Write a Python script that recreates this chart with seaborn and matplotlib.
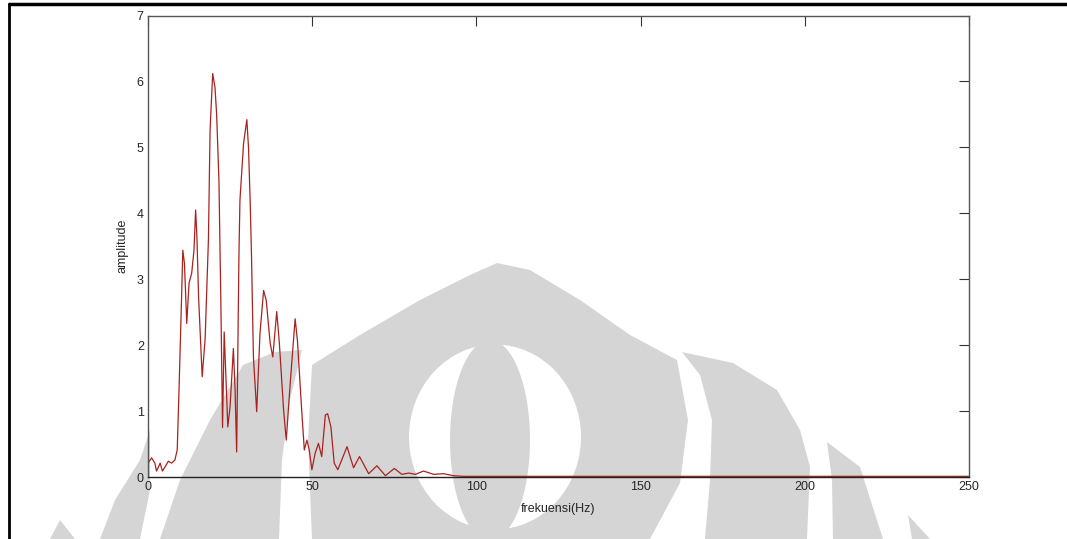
import numpy as np
import pandas as pd
import seaborn as sns
import matplotlib.pyplot as plt
from matplotlib.patches import Polygon, Ellipse

# spectrum
freq = [0.0, 1.1, 2.1, 2.6, 3.7, 4.4, 5.4, 6.2, 7.2, 8.2, 8.9, 9.5, 10.2, 10.6,
        11.1, 11.8, 12.5, 13.3, 14.0, 14.5, 14.9, 15.4, 16.5, 17.4, 18.4, 18.9,
        19.7, 20.4, 20.9, 21.6, 22.2, 22.7, 23.2, 23.8, 24.3, 25.0, 26.0, 26.5,
        27.0, 27.7, 28.0, 29.1, 30.1, 30.6, 31.1, 31.5, 32.1, 33.1, 34.1, 35.2,
        36.0, 37.2, 38.0, 39.2, 40.0, 41.3, 42.1, 43.3, 44.8, 45.5, 46.8, 47.6,
        48.4, 49.1, 49.9, 50.9, 51.9, 52.9, 54.0, 54.7, 55.7, 56.7, 57.8, 60.6,
        62.6, 64.4, 67.2, 69.7, 72.3, 75.0, 77.3, 79.4, 81.4, 83.9, 87.0, 90.0,
        93.0, 96.0, 250.0]
amp = [0.21, 0.29, 0.21, 0.09, 0.21, 0.09, 0.17, 0.24, 0.21, 0.26, 0.41, 1.42,
       2.68, 3.44, 3.24, 2.33, 2.94, 3.09, 3.44, 4.05, 3.64, 2.73, 1.52, 2.10,
       3.60, 5.26, 6.12, 5.91, 5.50, 4.50, 2.60, 0.75, 2.20, 1.42, 0.76, 1.07,
       1.95, 1.34, 0.38, 3.40, 4.20, 5.06, 5.42, 5.00, 4.20, 3.40, 1.82, 0.99,
       2.18, 2.83, 2.68, 2.03, 1.82, 2.51, 2.03, 1.01, 0.56, 1.42, 2.40, 2.07,
       1.01, 0.41, 0.56, 0.41, 0.11, 0.36, 0.51, 0.31, 0.94, 0.96, 0.76, 0.21,
       0.11, 0.46, 0.14, 0.31, 0.05, 0.17, 0.02, 0.13, 0.04, 0.06, 0.04, 0.09,
       0.04, 0.05, 0.02, 0.01, 0.01]

xticks = [0, 50, 100, 150, 200, 250]
yticks = [0, 1, 2, 3, 4, 5, 6, 7]

df = pd.DataFrame({"freq": freq, "amp": amp})

sns.set_style("white")
plt.rcParams['font.family'] = ['Liberation Sans', 'DejaVu Sans']

W, H = 1067, 539
fig = plt.figure(figsize=(W / 100, H / 100), dpi=100)
fig.patch.set_facecolor("white")

# background layer: watermark logo + frame (pixel coords)
bg = fig.add_axes([0, 0, 1, 1], zorder=0)
bg.set_xlim(0, W)
bg.set_ylim(H, 0)
bg.axis("off")
wm = "#d5d5d5"
shapes = [
    # central dome
    [(312, 539), (308, 440), (312, 365), (360, 335), (420, 300), (470, 275),
     (497, 263), (530, 270), (580, 300), (630, 335), (677, 360), (688, 420),
     (680, 483), (650, 539)],
    # left lobe
    [(160, 539), (180, 480), (210, 420), (243, 365), (275, 352), (302, 350),
     (290, 400), (282, 460), (279, 539)],
    # right lobe
    [(682, 352), (733, 363), (777, 390), (800, 430), (810, 467), (807, 539),
     (705, 539), (710, 480), (712, 420), (700, 375)],
    # outer crescents
    [(827, 442), (860, 467), (883, 539), (833, 539), (832, 480)],
    [(150, 430), (140, 460), (115, 500), (100, 539), (140, 539), (150, 490)],
    [(908, 515), (930, 539), (912, 539)],
    [(60, 520), (75, 539), (50, 539)],
]
for pts in shapes:
    bg.add_patch(Polygon(pts, closed=True, facecolor=wm, edgecolor="none"))
bg.add_patch(Ellipse((495, 437), 172, 185, facecolor="white", edgecolor="none"))
bg.add_patch(Ellipse((490, 440), 80, 200, facecolor=wm, edgecolor="none"))
bg.plot([8, W], [4, 4], color="black", lw=2.5, solid_capstyle="butt")
bg.plot([9, 9], [3, H], color="black", lw=2.0, solid_capstyle="butt")

# main plot
ax = fig.add_axes([148 / W, 1 - 477 / H, 821 / W, 461.5 / H], zorder=1)
ax.patch.set_alpha(0)
sns.lineplot(data=df, x="freq", y="amp", ax=ax, color="#a8231f", linewidth=0.9)

ax.set_xlim(0, 250)
ax.set_ylim(0, 7)
ax.set_xticks(xticks)
ax.set_yticks(yticks)
ax.tick_params(direction="in", length=7, width=0.8, top=True, right=True,
               labelsize=9, labelcolor="#262626", color="#333333", pad=3)
for s in ax.spines.values():
    s.set_visible(True)
    s.set_color("#555555")
    s.set_linewidth(1.0)
ax.spines["bottom"].set_color("#222222")
ax.set_xlabel("frekuensi(Hz)", fontsize=9, color="#262626", labelpad=7)
ax.set_ylabel("amplitude", fontsize=9, color="#262626", labelpad=6)

fig.savefig("out.png", dpi=100)
